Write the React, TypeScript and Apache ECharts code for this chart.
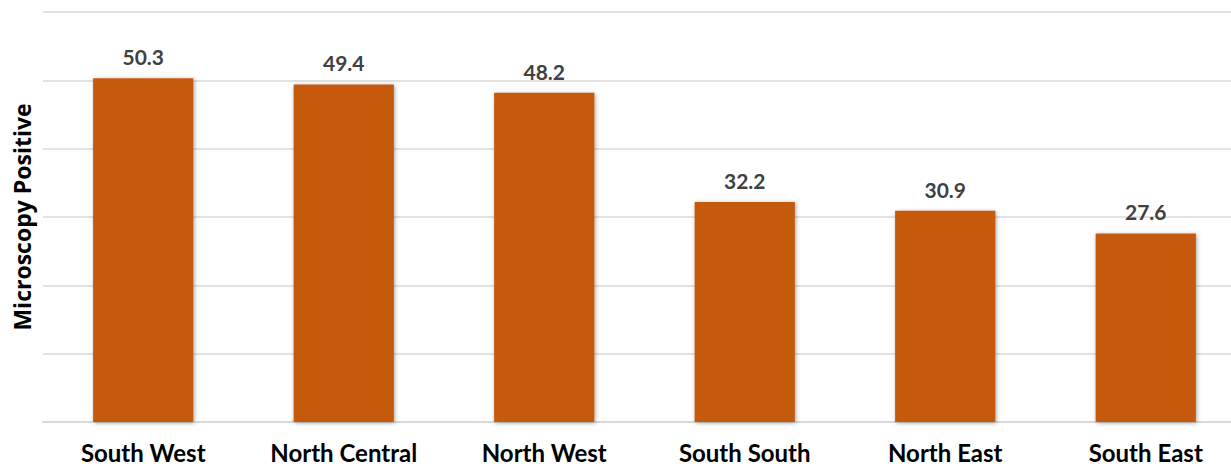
import React, { useEffect, useRef } from "react";
import * as echarts from "echarts";

const categories = ["South West", "North Central", "North West", "South South", "North East", "South East"];
const values = [50.3, 49.4, 48.2, 32.2, 30.9, 27.6];
const yAxisName = "Microscopy Positive";

export default function App() {
  const ref = useRef<HTMLDivElement>(null);
  useEffect(() => {
    document.body.style.margin = "0";
    document.body.style.overflow = "hidden";
    const chart = echarts.init(ref.current!, null, { renderer: "svg" });
    chart.setOption({
      animation: false,
      backgroundColor: "#ffffff",
      grid: { left: 43, right: 14, top: 12, bottom: 41 },
      xAxis: {
        type: "category",
        data: categories,
        axisLine: { lineStyle: { color: "#D9D9D9", width: 2 } },
        axisTick: { show: false },
        axisLabel: {
          color: "#000000",
          fontFamily: "Lato",
          fontWeight: "bold",
          fontSize: 24,
          margin: 18,
        },
      },
      yAxis: {
        type: "value",
        min: 0,
        max: 60,
        interval: 10,
        name: yAxisName,
        nameLocation: "middle",
        nameRotate: 90,
        nameGap: 10,
        nameTextStyle: {
          color: "#000000",
          fontFamily: "Open Sans",
          fontWeight: "bold",
          fontSize: 23,
        },
        axisLabel: { show: false },
        axisLine: { show: false },
        axisTick: { show: false },
        splitLine: { lineStyle: { color: "#D9D9D9", width: 1.5 } },
      },
      series: [
        {
          type: "bar",
          data: values,
          barCategoryGap: "50%",
          itemStyle: {
            color: "#C55A11",
            shadowColor: "rgba(0,0,0,0.35)",
            shadowBlur: 4,
            shadowOffsetX: 1,
            shadowOffsetY: 1,
          },
          label: {
            show: true,
            position: "top",
            distance: 11,
            color: "#404040",
            fontFamily: "Lato",
            fontWeight: "bold",
            fontSize: 21,
            formatter: (p: any) => p.value.toFixed(1),
          },
        },
      ],
    });
    return () => chart.dispose();
  }, []);
  return <div ref={ref} style={{ position: "fixed", left: 0, top: 0, width: 1260, height: 464 }} />;
}
